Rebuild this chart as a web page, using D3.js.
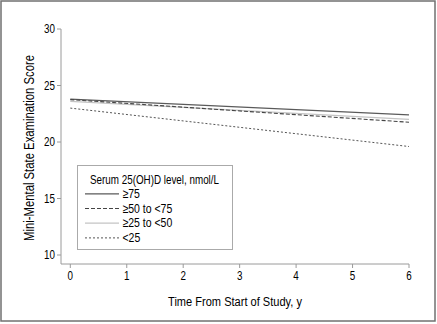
<!DOCTYPE html>
<html>
<head>
<script src="https://d3js.org/d3.v7.min.js"></script>
<style>
  body { margin:0; background:#fff; }
  text { font-family: "Liberation Sans", Arial, sans-serif; fill:#000; }
</style>
</head>
<body>
<script>
// data
var years = [0, 6];
var groups = ["\u226575", "\u226550 to <75", "\u226525 to <50", "<25"];
var startScore = [23.8, 23.75, 23.6, 23.0];
var endScore = [22.4, 21.75, 22.0, 19.6];
var xTicks = [0, 1, 2, 3, 4, 5, 6];
var yTicks = [10, 15, 20, 25, 30];

var styles = [
  {stroke:"#5a5a5a", width:1.2, dash:null},
  {stroke:"#444", width:1.1, dash:"4,2"},
  {stroke:"#c4c4c4", width:1.2, dash:null},
  {stroke:"#555", width:1, dash:"2,2"}
];

var W = 437, H = 324;
var svg = d3.select("body").append("svg").attr("width", W).attr("height", H);

// condensed look: squeeze regular sans horizontally
function label(parent, x0, y0, str, size, anchor, rot) {
  var t = "translate(" + x0 + "," + y0 + ")" + (rot ? " rotate(-90)" : "") + " scale(0.82,1)";
  return parent.append("text").attr("transform", t).attr("font-size", size)
    .attr("text-anchor", anchor || "start").text(str);
}

svg.append("rect").attr("x", 1).attr("y", 1).attr("width", 434).attr("height", 320)
  .attr("fill", "none").attr("stroke", "#707070").attr("stroke-width", 1.5);

var x = d3.scaleLinear().domain([0, 6]).range([70.3, 409]);
var y = d3.scaleLinear().domain([10, 30]).range([255, 29]);
var axisCol = "#9a9a9a";

// y axis
svg.append("line").attr("x1", 61).attr("x2", 61).attr("y1", 29).attr("y2", 264)
  .attr("stroke", axisCol);
yTicks.forEach(function(t){
  svg.append("line").attr("x1", 57).attr("x2", 61).attr("y1", y(t)).attr("y2", y(t)).attr("stroke", axisCol);
  label(svg, 55, y(t) + 4.2, t, 12, "end");
});
// x axis
svg.append("line").attr("x1", 61).attr("x2", 409).attr("y1", 264).attr("y2", 264).attr("stroke", axisCol);
xTicks.forEach(function(t){
  svg.append("line").attr("x1", x(t)).attr("x2", x(t)).attr("y1", 264).attr("y2", 268).attr("stroke", axisCol);
  label(svg, x(t), 280, t, 12, "middle");
});

label(svg, 235, 306, "Time From Start of Study, y", 13.5, "middle");
label(svg, 34, 148, "Mini-Mental State Examination Score", 13.8, "middle", true);

// lines
var line = d3.line().x(function(d){ return x(d[0]); }).y(function(d){ return y(d[1]); });
[2, 0, 1, 3].forEach(function(i){
  var pts = [[years[0], startScore[i]], [years[1], endScore[i]]];
  svg.append("path").attr("d", line(pts)).attr("fill", "none")
    .attr("stroke", styles[i].stroke).attr("stroke-width", styles[i].width)
    .attr("stroke-dasharray", styles[i].dash);
});

// legend
var lg = svg.append("g");
lg.append("rect").attr("x", 77.5).attr("y", 165.5).attr("width", 155).attr("height", 84)
  .attr("fill", "#fff").attr("stroke", "#aaa");
label(lg, 90, 184, "Serum 25(OH)D level, nmol/L", 12);
groups.forEach(function(g, i){
  var yy = 197.8 + i * 14.7;
  lg.append("line").attr("x1", 85).attr("x2", 119).attr("y1", yy - 4).attr("y2", yy - 4)
    .attr("stroke", styles[i].stroke).attr("stroke-width", styles[i].width)
    .attr("stroke-dasharray", styles[i].dash);
  label(lg, 122.5, yy, g, 12.8);
});
</script>
</body>
</html>
